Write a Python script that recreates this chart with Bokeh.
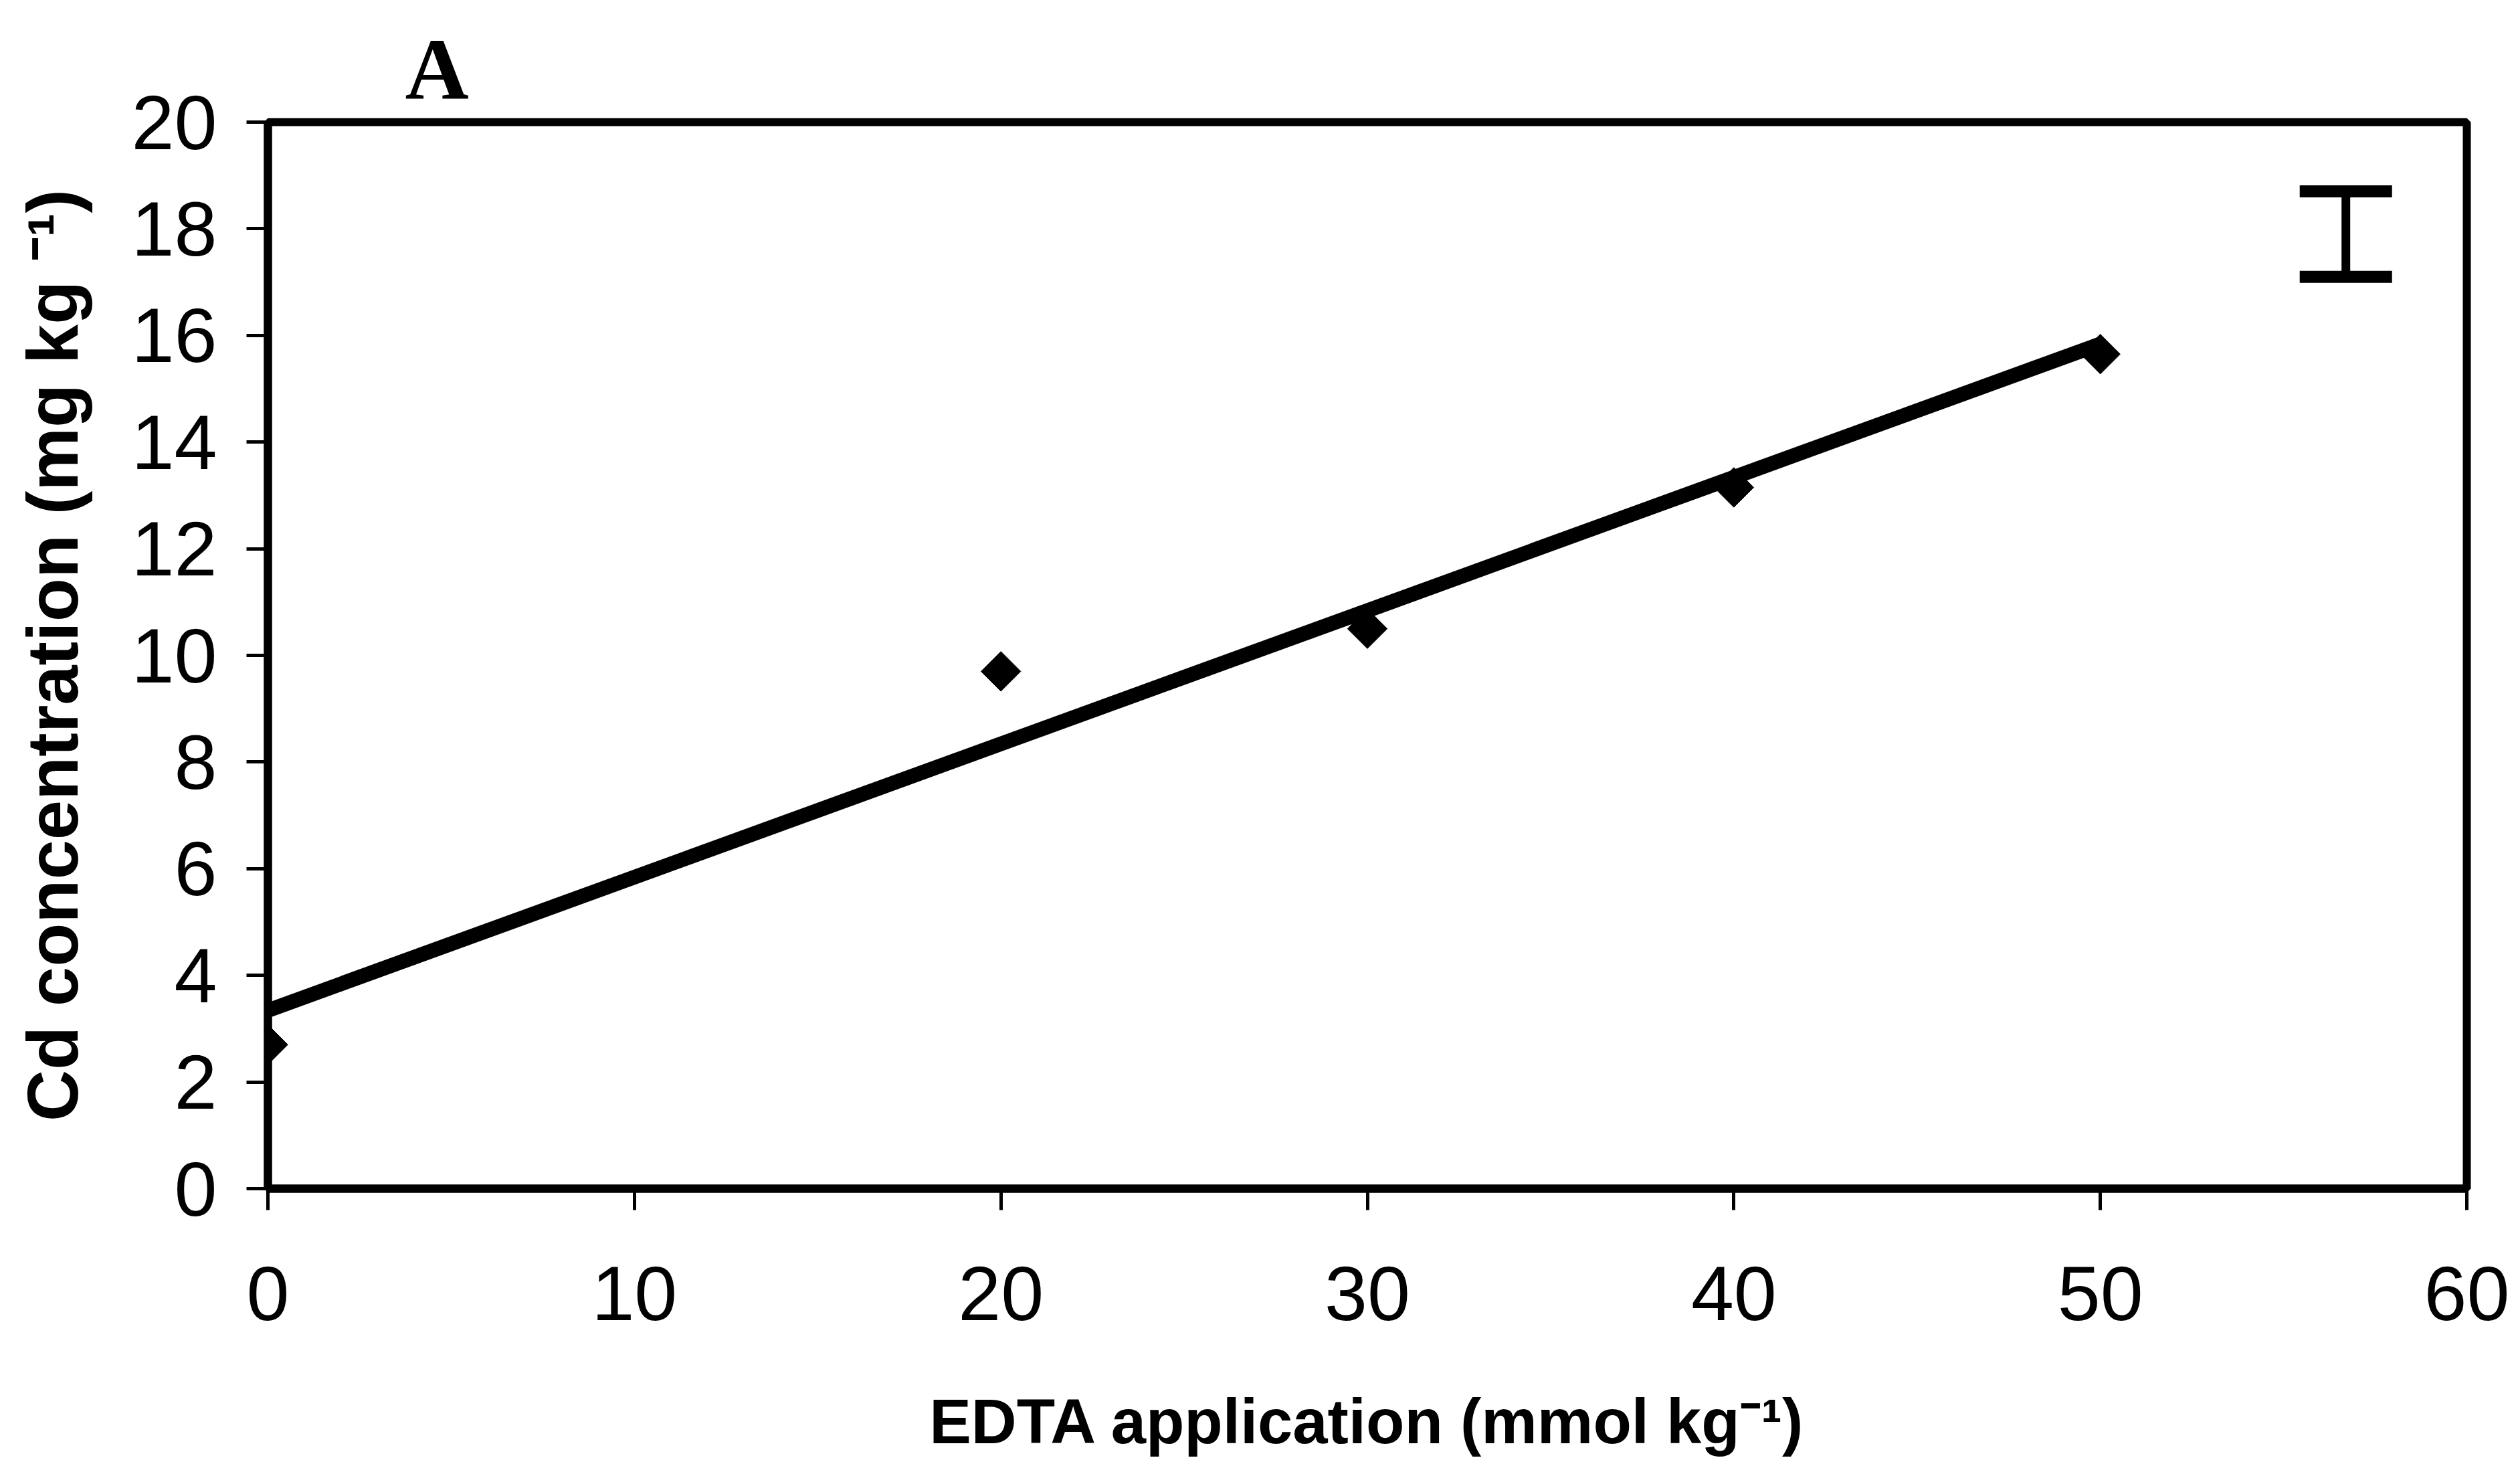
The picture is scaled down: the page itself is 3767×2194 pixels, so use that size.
import numpy as np
from bokeh.plotting import figure
from bokeh.models import Range1d, FixedTicker, Whisker, TeeHead, ColumnDataSource, Title
from bokeh.embed import file_html
from bokeh.resources import INLINE

# Data
edta = [0, 20, 30, 40, 50]
cd = [2.7, 9.7, 10.5, 13.15, 15.65]

# Error bar shown in upper right (LSD-style bar)
err_x = [56.7]
err_low = [17.1]
err_high = [18.7]

x_ticks = [0, 10, 20, 30, 40, 50, 60]
y_ticks = [0, 2, 4, 6, 8, 10, 12, 14, 16, 18, 20]

x_title = "EDTA application (mmol kg\u207b\u00b9)"
y_title = "Cd concentration (mg kg \u207b\u00b9)"
panel_label = "A"

# Linear trend line fitted to the data
slope, intercept = np.polyfit(edta, cd, 1)
fit_x = [min(edta), max(edta)]
fit_y = [intercept + slope * v for v in fit_x]

W, H = 3767, 2194
p = figure(width=W, height=H, output_backend="svg", toolbar_location=None,
           x_range=Range1d(0, 60), y_range=Range1d(0, 20),
           min_border_left=400, min_border_right=80,
           min_border_top=182, min_border_bottom=418)

p.background_fill_color = "white"
p.border_fill_color = "white"
p.xgrid.visible = False
p.ygrid.visible = False
p.outline_line_color = "black"
p.outline_line_width = 12

for ax in (p.xaxis, p.yaxis):
    ax.axis_line_color = "black"
    ax.axis_line_width = 12
    ax.major_tick_line_color = "black"
    ax.major_tick_line_width = 5
    ax.major_tick_in = 0
    ax.major_tick_out = 32
    ax.minor_tick_line_color = None
    ax.major_label_text_font = "Liberation Sans"
    ax.major_label_text_font_size = "115px"
    ax.major_label_text_color = "black"
    ax.axis_label_text_font = "Liberation Sans"
    ax.axis_label_text_font_style = "bold"
    ax.axis_label_text_color = "black"

p.xaxis.ticker = FixedTicker(ticks=x_ticks)
p.yaxis.ticker = FixedTicker(ticks=y_ticks)
p.xaxis.major_label_standoff = 84
p.yaxis.major_label_standoff = 44

p.xaxis.axis_label = x_title
p.xaxis.axis_label_text_font_size = "94px"
p.xaxis.axis_label_standoff = 96

p.yaxis.axis_label = y_title
p.yaxis.axis_label_text_font_size = "80pt"
p.yaxis.axis_label_standoff = 55

# Panel label above the frame
p.title = Title(text=panel_label, align="left", offset=205, standoff=12,
                text_font="Liberation Serif", text_font_style="bold",
                text_font_size="99pt", text_color="black")

# Trend line
p.line(fit_x, fit_y, line_color="black", line_width=22)

# Data points (diamonds)
p.scatter(edta, cd, marker="square", size=42, angle=np.pi / 4,
          fill_color="black", line_color="black")

# Error bar
src = ColumnDataSource(data=dict(x=err_x, lower=err_low, upper=err_high))
wh = Whisker(base="x", lower="lower", upper="upper", source=src, dimension="height",
             line_color="black", line_width=13,
             upper_head=TeeHead(size=138, line_width=18, line_color="black"),
             lower_head=TeeHead(size=138, line_width=18, line_color="black"))
p.add_layout(wh)

open("out.html", "w").write(file_html(p, INLINE))
